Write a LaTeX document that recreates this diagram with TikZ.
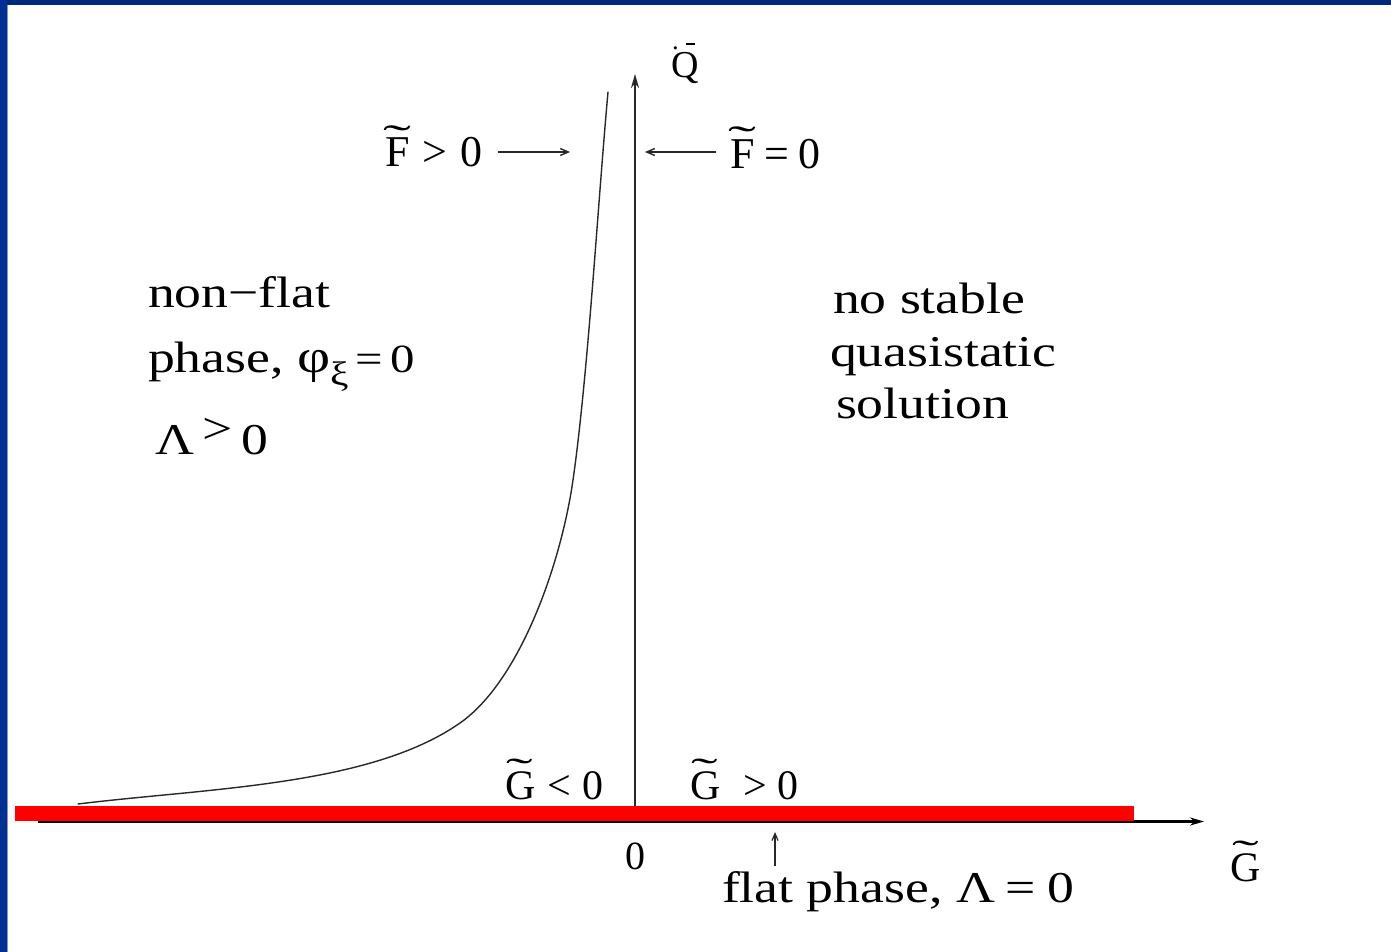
\documentclass[tikz,border=0pt]{standalone}
\usepackage{fontspec}
\usepackage{graphicx}
\setmainfont{Liberation Serif}
\newfontfamily\widefont[FakeStretch=1.22]{Liberation Serif}
\usetikzlibrary{arrows.meta}
\definecolor{frameblue}{RGB}{0,40,125}
\definecolor{frameleft}{RGB}{0,48,145}
\definecolor{barred}{RGB}{255,0,0}
\definecolor{axisgray}{RGB}{40,40,40}
\newcommand\tild[1]{\leavevmode\setbox0\hbox{#1}\makebox[\wd0][c]{\raisebox{0.34em}{\scalebox{1.9}[0.9]{\char"02DC}}}\kern-\wd0\box0}
\newcommand\fs[1]{\fontsize{#1}{#1}\selectfont}
\tikzset{
  lbl/.style={inner sep=0pt, outer sep=0pt, anchor=base west, text=black},
  small/.style={lbl, font=\fs{44}},
  big/.style={lbl, font=\widefont\fs{44}},
  arr/.style={line width=1.4pt, draw=axisgray, -{Straight Barb[length=8pt,width=7pt]}},
  axis/.style={line width=2pt, draw=axisgray, -{Stealth[length=14pt,width=8pt]}},
}
\begin{document}
\begin{tikzpicture}[x=1pt,y=-1pt]
\useasboundingbox (0,0) rectangle (1391,952);
\fill[white] (0,0) rectangle (1391,952);
% slide frame
\fill[frameblue] (0,0) rectangle (1391,5);
\fill[frameleft] (0,0) rectangle (7,952);
\fill[frameleft!50!white] (7,5) rectangle (8,952);

% axes
\coordinate (gstart) at (38,821.5);
\coordinate (gtip) at (1204,821.5);
\coordinate (origin) at (635,821);
\coordinate (qtip) at (635,74);
\draw[axis, line width=2.6pt, draw=black] (gstart) -- (gtip);
\draw[axis] (origin) -- (qtip);

% red flat-phase bar
\fill[barred] (15,806) rectangle (1134,821);

% phase boundary curve
\coordinate (c0) at (78,804);
\coordinate (c1) at (460,723);
\coordinate (c2) at (573,480);
\coordinate (c3) at (608,92);
\draw[line width=1.4pt, draw=axisgray, line cap=round]
  (c0) .. controls (208,788) and (370,786) .. (c1)
       .. controls (520,681) and (561,564) .. (c2)
       .. controls (588,375) and (598,202) .. (c3);

% Q label
\node[lbl, anchor=base, font=\fs{38}] (qlab) at (685,78)
  {\makebox[0pt][l]{\hspace{0.02em}\raisebox{0.74em}{\scalebox{0.7}{.}}\hspace{0.2em}\raisebox{0.86em}{\rule{0.22em}{0.06em}}}Q};

% F labels and arrows
\node[small] (fpos) at (385,167) {\tild{F}\hspace{0.3em}>\hspace{0.3em}0};
\coordinate (fpa) at (498,152);
\coordinate (fpb) at (570,152);
\draw[arr] (fpa) -- (fpb);
\node[small] (fzero) at (730,168) {\tild{F}\hspace{0.22em}=\hspace{0.22em}0};
\coordinate (fza) at (716,152);
\coordinate (fzb) at (645,152);
\draw[arr] (fza) -- (fzb);

% left region text
\node[big] (nonflat) at (148,307) {non−flat};
\node[big] (phase) at (148,372) {phase, {\fs{47}φ}\raisebox{-0.3em}{\fs{34}ξ}\hspace{0.15em}{\fs{40}=\hspace{0.2em}0}};
\node[big] (lam) at (155,454) {Λ\hspace{0.2em}\raisebox{0.25em}{>}\hspace{0.2em}0};

% right region text
\node[big] (nostable) at (833,313) {no stable};
\node[big] (quasi) at (830,366) {quasistatic};
\node[big] (solution) at (836,418) {solution};

% G labels
\node[small, font=\fs{42}] (gneg) at (505,799) {\tild{G}\hspace{0.3em}<\hspace{0.25em}0};
\node[small, font=\fs{42}] (gpos) at (690,799) {\tild{G}\hspace{0.55em}>\hspace{0.25em}0};
\node[small, font=\fs{40}, anchor=base] (zero) at (635,869) {0};
\node[small, font=\fs{42}, anchor=base] (gaxis) at (1246,881) {\tild{G}};

% flat phase label
\coordinate (fla) at (775,866);
\coordinate (flb) at (775,832);
\draw[arr, line width=1.2pt, -{Straight Barb[length=7pt,width=6pt]}] (fla) -- (flb);
\node[big] (flat) at (722,902) {flat phase, Λ\hspace{0.25em}=\hspace{0.25em}0};
\end{tikzpicture}
\end{document}
